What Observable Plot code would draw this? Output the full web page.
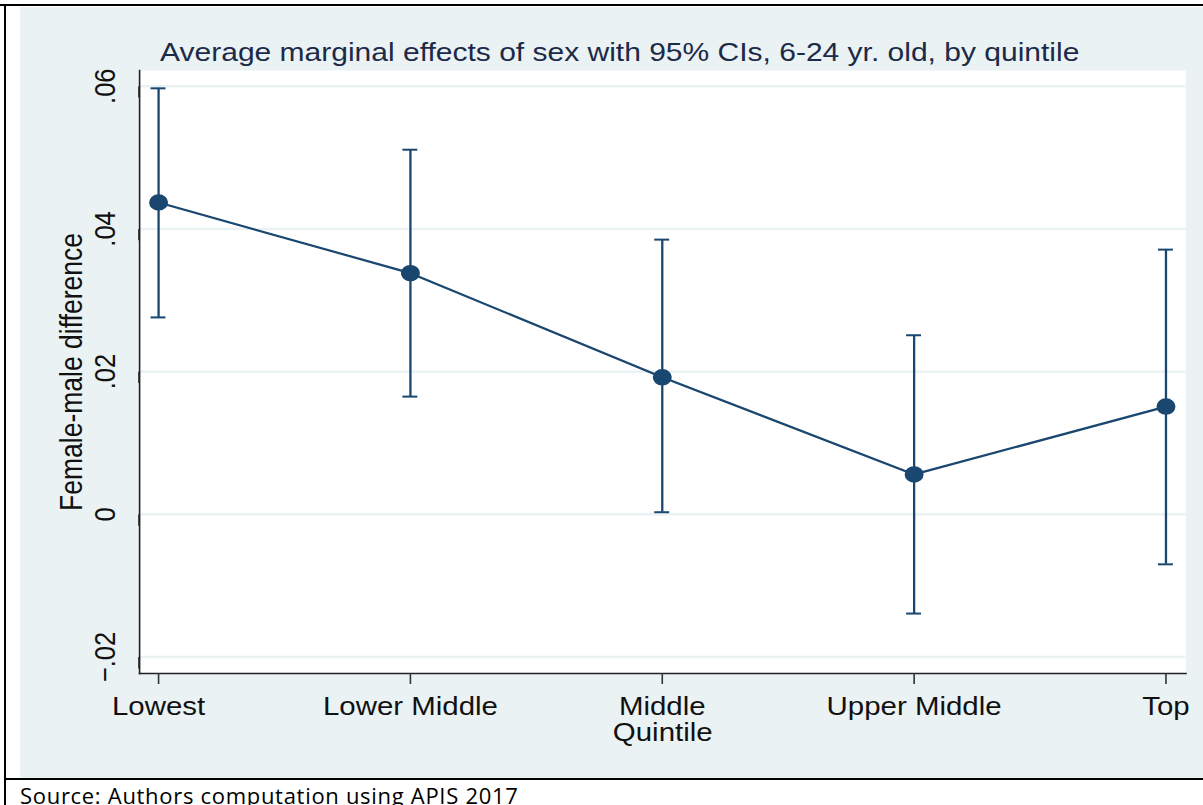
<!DOCTYPE html>
<html>
<head>
<meta charset="utf-8">
<script src="https://cdn.jsdelivr.net/npm/d3@7"></script>
<script src="https://cdn.jsdelivr.net/npm/@observablehq/plot@0.6"></script>
<style>
  html, body { margin: 0; padding: 0; background: #fff; }
  #page { position: relative; width: 1203px; height: 805px; overflow: hidden; }
  #chart { position: absolute; left: 20px; top: 7px; transform: scaleX(1.15); transform-origin: 0 0; }
  .bl { position: absolute; background: #000; }
  #source { position: absolute; left: 20px; top: 780px; font-family: "Open Sans", sans-serif; font-size: 22px; letter-spacing: 0.7px; color: #000; white-space: nowrap; }
</style>
</head>
<body>
<div id="page">
  <div class="bl" style="left:0;top:4px;width:1203px;height:2px"></div>
  <div class="bl" style="left:4px;top:4px;width:2px;height:801px"></div>
  <div class="bl" style="left:4px;top:778px;width:1199px;height:2px"></div>
  <div id="chart"></div>
  <div id="source">Source: Authors computation using APIS 2017</div>
</div>
<script>
const quintiles = ["Lowest", "Lower Middle", "Middle", "Upper Middle", "Top"];
const effect = [0.0437, 0.0338, 0.0192, 0.0056, 0.0151];
const ciLow = [0.0276, 0.0165, 0.0003, -0.0139, -0.0070];
const ciHigh = [0.0597, 0.0511, 0.0385, 0.0251, 0.0371];
const yTicks = [-0.02, 0, 0.02, 0.04, 0.06];
const xTickLabels = ["Lowest", "Lower Middle", "Middle", "Upper Middle", "Top"];
const titleText = "Average marginal effects of sex with 95% CIs, 6-24 yr. old, by quintile";
const yTitle = "Female-male difference";
const xTitle = "Quintile";

const data = quintiles.map((q, i) => ({q, m: effect[i], lo: ciLow[i], hi: ciHigh[i]}));
const navy = "#1a476f";
const bg = "#eaf2f3";
const fmt = d => d === 0 ? "0" : d3.format(".2f")(d).replace("0.", ".");
const font = "Liberation Sans, Arial, sans-serif";

const chart = Plot.plot({
  width: 1029,
  height: 771,
  marginLeft: 103.5,
  marginRight: 15.7,
  marginTop: 63,
  marginBottom: 105,
  style: {background: bg, fontFamily: font, color: "#111"},
  x: {type: "point", domain: quintiles, padding: 0.0755, axis: null},
  y: {domain: [-0.0223, 0.0622], axis: null},
  marks: [
    Plot.frame({fill: "white", stroke: "none"}),
    Plot.gridY(yTicks, {stroke: bg, strokeOpacity: 1, strokeWidth: 2.5}),
    Plot.frame({anchor: "left", stroke: "#222", strokeWidth: 1.4}),
    Plot.frame({anchor: "bottom", stroke: "#222", strokeWidth: 1.6}),
    Plot.ruleX(data, {x: "q", y1: "lo", y2: "hi", stroke: navy, strokeWidth: 2}),
    Plot.ruleY(data, {y: "lo", x1: "q", x2: "q", insetLeft: -6.5, insetRight: -6.5, stroke: navy, strokeWidth: 2}),
    Plot.ruleY(data, {y: "hi", x1: "q", x2: "q", insetLeft: -6.5, insetRight: -6.5, stroke: navy, strokeWidth: 2}),
    Plot.line(data, {x: "q", y: "m", stroke: navy, strokeWidth: 2.2}),
    Plot.dot(data, {x: "q", y: "m", r: 7.5, fill: navy, stroke: navy}),
    Plot.axisY(yTicks, {tickSize: 11.3, tickPadding: 18.3, tickFormat: fmt, rotate: -90, textAnchor: "middle", fontSize: 25.5, stroke: "#222", fill: "#111", strokeWidth: 1.4}),
    Plot.axisX(xTickLabels, {tickSize: 11, tickPadding: 12.7, fontSize: 25.6, stroke: "#333", fill: "#111", strokeWidth: 1.4, label: null}),
    Plot.text([xTitle], {frameAnchor: "bottom", lineAnchor: "top", dy: 49.5, fontSize: 25.6, fill: "#111"}),
    Plot.text([yTitle], {frameAnchor: "left", dx: -58.7, rotate: -90, textAnchor: "middle", lineAnchor: "middle", fontSize: 26.5, fill: "#111"}),
    Plot.text([titleText], {frameAnchor: "top", lineAnchor: "bottom", dx: -37.4, dy: -10, fontSize: 26.1, fill: "#1c2a48"})
  ]
});
document.getElementById("chart").appendChild(chart);
</script>
</body>
</html>
